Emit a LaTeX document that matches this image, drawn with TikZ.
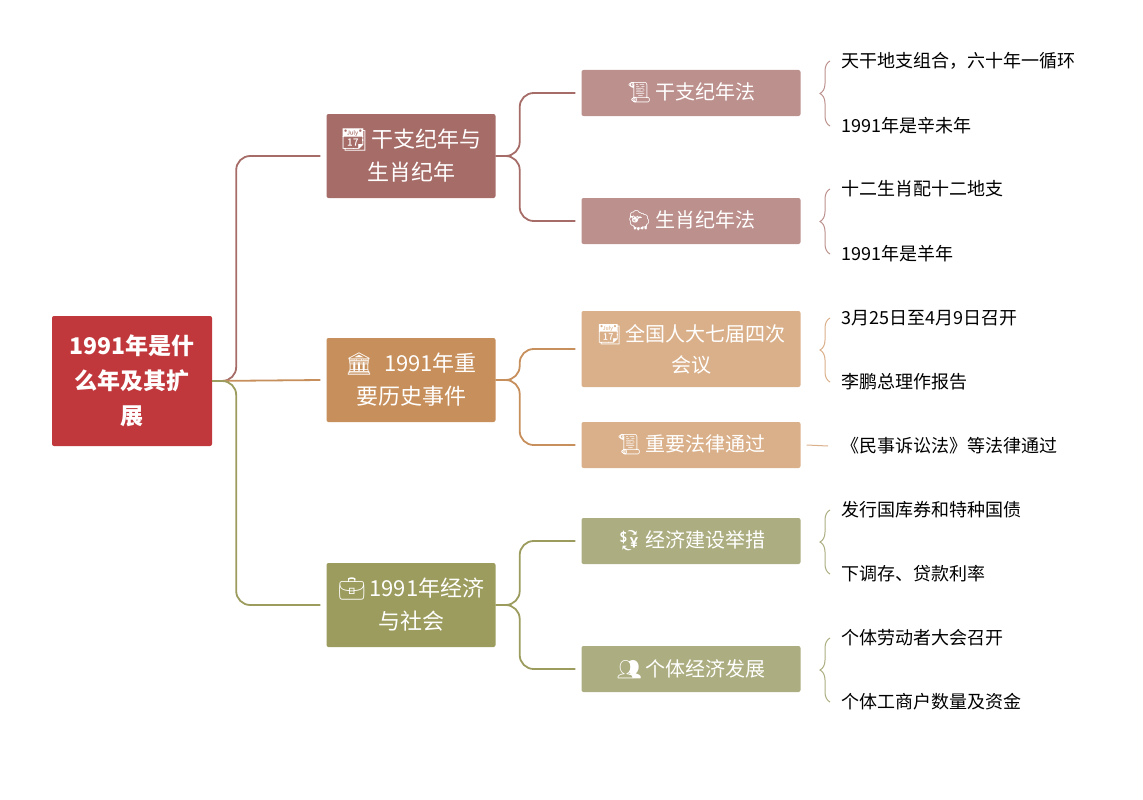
\documentclass[tikz,border=0pt]{standalone}
\usepackage{fontspec}
\usetikzlibrary{decorations.pathreplacing}
\setmainfont{Noto Sans CJK SC}
\newfontfamily\emo{Noto Emoji}
\newcommand{\ic}[1]{{\emo #1}\,}
\definecolor{rootc}{HTML}{C0383C}
\definecolor{ca}{HTML}{A66D68}\definecolor{cal}{HTML}{BC908D}
\definecolor{cb}{HTML}{C78F5B}\definecolor{cbl}{HTML}{DAB08A}
\definecolor{cc}{HTML}{9C9C5E}\definecolor{ccl}{HTML}{ACAD80}
\tikzset{
  rootbox/.style={fill=rootc, text=white, rounded corners=2pt, minimum width=160pt, minimum height=130pt, text width=150pt, align=center, font=\fontsize{23}{35}\selectfont\bfseries},
  topicbox/.style={rounded corners=2pt, text=white, minimum width=169pt, minimum height=84pt, text width=160pt, align=center, font=\fontsize{22}{33}\selectfont},
  subbox/.style={rounded corners=2pt, text=white, minimum width=219pt, minimum height=46pt, text width=210pt, align=center, font=\fontsize{20}{30}\selectfont},
  leaf/.style={anchor=west, font=\fontsize{18}{20}\selectfont},
  branch/.style={line width=1.8pt, rounded corners=14pt},
  curly/.style={line width=1pt, decorate, decoration={brace, amplitude=10pt}}
}
\begin{document}
\begin{tikzpicture}[x=1pt, y=-1pt]
\useasboundingbox (0,0) rectangle (1143,800);
\node[rootbox] (root) at (132,381) {1991年是什\\么年及其扩\\展};
\node[topicbox, fill=ca] (ganzhi) at (411,156) {\ic{📆}干支纪年与\\生肖纪年};
\node[topicbox, fill=cb] (history) at (411,380) {\ic{🏛} 1991年重\\要历史事件};
\node[topicbox, fill=cc] (economy) at (411,605) {\ic{💼}1991年经济\\与社会};
\node[subbox, fill=cal] (gzfa) at (691,93) {\ic{📜}干支纪年法};
\node[subbox, fill=cal] (sxfa) at (691,221) {\ic{🐑}生肖纪年法};
\node[subbox, fill=cbl, minimum height=76pt, font=\fontsize{20}{31}\selectfont] (renda) at (691,349) {\ic{📆}全国人大七届四次\\会议};
\node[subbox, fill=cbl] (falv) at (691,445) {\ic{📜}重要法律通过};
\node[subbox, fill=ccl] (jingji) at (691,541) {\ic{💱}经济建设举措};
\node[subbox, fill=ccl] (geti) at (691,669) {\ic{👥}个体经济发展};
% leaves
\node[leaf] (l1) at (838,61) {天干地支组合，六十年一循环};
\node[leaf] (l2) at (838,126) {1991年是辛未年};
\node[leaf] (l3) at (838,189) {十二生肖配十二地支};
\node[leaf] (l4) at (838,254) {1991年是羊年};
\node[leaf] (l5) at (838,318) {3月25日至4月9日召开};
\node[leaf] (l6) at (838,382) {李鹏总理作报告};
\node[leaf] (l7) at (838,446) {《民事诉讼法》等法律通过};
\node[leaf] (l8) at (838,510) {发行国库券和特种国债};
\node[leaf] (l9) at (838,574) {下调存、贷款利率};
\node[leaf] (l10) at (838,638) {个体劳动者大会召开};
\node[leaf] (l11) at (838,702) {个体工商户数量及资金};
% branches
\draw[branch, ca] (root.east) -- ++(24,0) |- ([xshift=-6pt]ganzhi.west);
\draw[branch, cb] (root.east) -- ([xshift=-6pt]history.west);
\draw[branch, cc] (root.east) -- ++(24,0) |- ([xshift=-6pt]economy.west);
\draw[branch, ca] (ganzhi.east) -- ++(24,0) |- ([xshift=-6pt]gzfa.west);
\draw[branch, ca] (ganzhi.east) -- ++(24,0) |- ([xshift=-6pt]sxfa.west);
\draw[branch, cb] (history.east) -- ++(24,0) |- ([xshift=-6pt]renda.west);
\draw[branch, cb] (history.east) -- ++(24,0) |- ([xshift=-6pt]falv.west);
\draw[branch, cc] (economy.east) -- ++(24,0) |- ([xshift=-6pt]jingji.west);
\draw[branch, cc] (economy.east) -- ++(24,0) |- ([xshift=-6pt]geti.west);
% braces
\draw[curly, cal] ([xshift=-8pt]l2.west) -- ([xshift=-8pt]l1.west);
\draw[curly, cal] ([xshift=-8pt]l4.west) -- ([xshift=-8pt]l3.west);
\draw[curly, cbl] ([xshift=-8pt]l6.west) -- ([xshift=-8pt]l5.west);
\draw[line width=1pt, cbl] ([xshift=6pt]falv.east) -- ([xshift=-10pt]l7.west);
\draw[curly, ccl] ([xshift=-8pt]l9.west) -- ([xshift=-8pt]l8.west);
\draw[curly, ccl] ([xshift=-8pt]l11.west) -- ([xshift=-8pt]l10.west);
\end{tikzpicture}
\end{document}
